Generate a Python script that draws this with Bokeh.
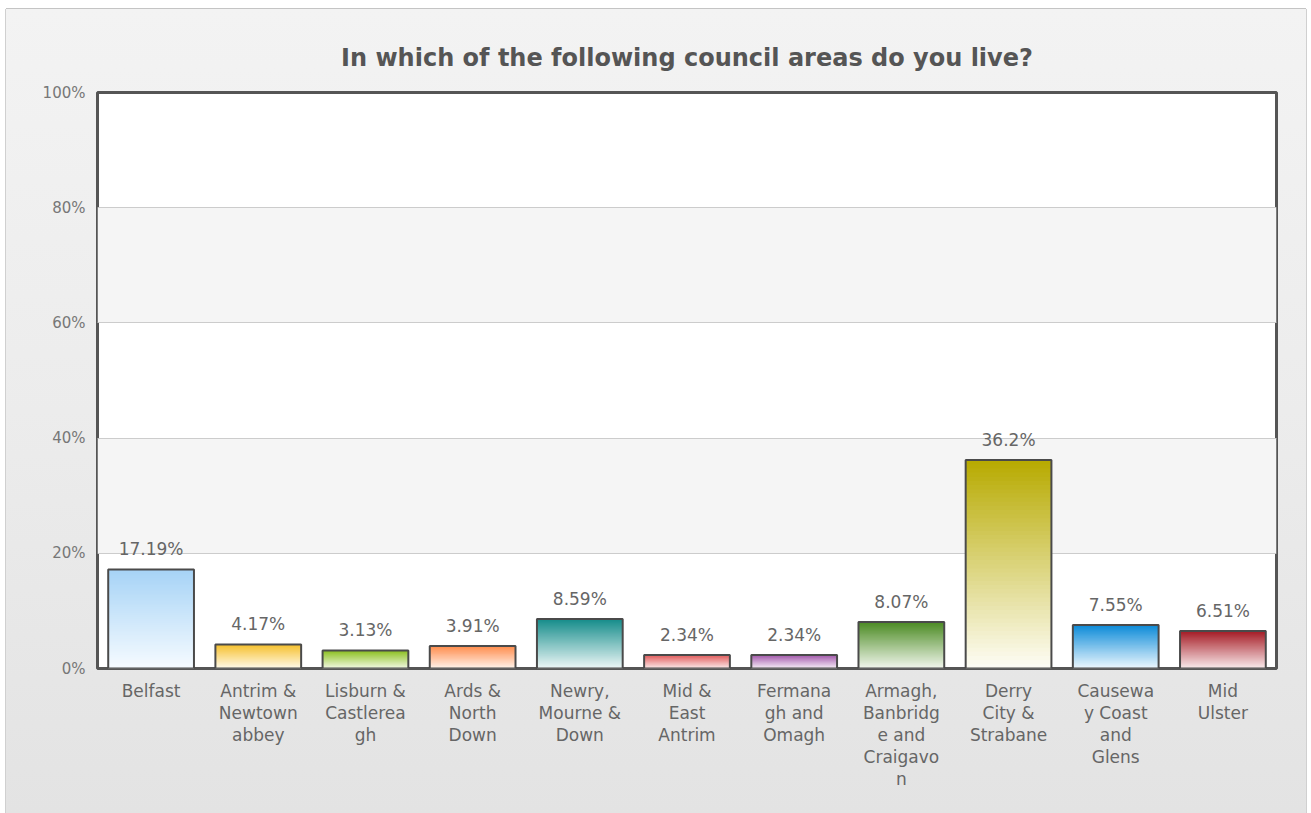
from bokeh.plotting import figure
from bokeh.models import Range1d, FixedTicker, PrintfTickFormatter, ColumnDataSource, FactorRange
from bokeh.core.properties import value
from bokeh.embed import file_html
from bokeh.resources import INLINE

# ---- data ----
categories = ["Belfast", "Antrim &\nNewtown\nabbey", "Lisburn &\nCastlerea\ngh", "Ards &\nNorth\nDown",
              "Newry,\nMourne &\nDown", "Mid &\nEast\nAntrim", "Fermana\ngh and\nOmagh",
              "Armagh,\nBanbridg\ne and\nCraigavo\nn", "Derry\nCity &\nStrabane",
              "Causewa\ny Coast\nand\nGlens", "Mid\nUlster"]
percentages = [17.19, 4.17, 3.13, 3.91, 8.59, 2.34, 2.34, 8.07, 36.2, 7.55, 6.51]
value_labels = ["17.19%", "4.17%", "3.13%", "3.91%", "8.59%", "2.34%", "2.34%", "8.07%", "36.2%", "7.55%", "6.51%"]
top_colors = ["#a6d3f6", "#f6c02c", "#8bbf1f", "#ff8c4c", "#148c8a", "#e25c5c", "#a259ab",
              "#4b8a22", "#b7aa00", "#0b8ad8", "#a41a24"]
bottom_colors = ["#f6fbff", "#fffaeb", "#f3f9e6", "#fff4ec", "#eef7f7", "#fcecec", "#f7eef8",
                 "#f2f7ee", "#fefdf6", "#eef8fe", "#faeced"]
y_ticks = [0, 20, 40, 60, 80, 100]


def hex2rgb(h):
    h = h.lstrip("#")
    return tuple(int(h[i:i + 2], 16) for i in (0, 2, 4))


def mix(c1, c2, t):
    a, b = hex2rgb(c1), hex2rgb(c2)
    return "#%02x%02x%02x" % tuple(int(round(a[i] + (b[i] - a[i]) * t)) for i in range(3))


p = figure(x_range=FactorRange(*categories, range_padding=0), y_range=Range1d(0, 100),
           width=1300, height=804, output_backend="svg", toolbar_location=None,
           min_border_left=91, min_border_right=30, min_border_top=83, min_border_bottom=145)
p.margin = (9, 0, 0, 6)
p.styles = {"background": "linear-gradient(to bottom, #f3f3f3 0%, #ececec 50%, #e3e3e3 100%)",
            "box-shadow": "0 -1px 0 #c4c4c4, -1px 0 0 #d0d0d0, 1px 0 0 #d0d0d0"}
p.border_fill_color = None
p.background_fill_color = "white"
p.outline_line_color = "#555555"
p.outline_line_width = 3

p.title.text = "In which of the following council areas do you live?"
p.title.align = "center"
p.title.text_font = "DejaVu Sans"
p.title.text_font_style = "bold"
p.title.text_font_size = "24px"
p.title.text_color = "#555555"
p.title.offset = 0
p.title.standoff = 42

# gradient bars: overlapping slices from bottom (light) to top (full colour)
N = 50
xs, bottoms, tops, cols = [], [], [], []
for cat, v, ct, cb in zip(categories, percentages, top_colors, bottom_colors):
    for i in range(N):
        xs.append(cat)
        bottoms.append(v * i / N)
        tops.append(v)
        cols.append(mix(cb, ct, (i + 0.5) / N))
p.vbar(x=xs, bottom=bottoms, top=tops, width=0.8, fill_color=cols, line_color=None)

src = ColumnDataSource(dict(x=categories, top=percentages, lab=value_labels))
p.vbar(x="x", top="top", width=0.8, source=src, fill_color=None, line_color="#4a4a4a", line_width=2)
p.text(x="x", y="top", text="lab", source=src, text_align="center", text_baseline="alphabetic",
       y_offset=-20, text_font=value("DejaVu Sans"), text_font_size="17px", text_color="#666666")

p.ygrid.ticker = FixedTicker(ticks=y_ticks)
p.ygrid.grid_line_color = "#cccccc"
p.ygrid.grid_line_width = 1
p.ygrid.band_fill_color = "#f5f5f5"
p.ygrid.band_fill_alpha = 1
p.xgrid.grid_line_color = None

p.yaxis.ticker = FixedTicker(ticks=y_ticks)
p.yaxis.formatter = PrintfTickFormatter(format="%d%%")
p.yaxis.axis_line_color = None
p.yaxis.major_tick_line_color = None
p.yaxis.minor_tick_line_color = None
p.yaxis.major_label_standoff = 6
p.yaxis.major_label_text_font = "DejaVu Sans"
p.yaxis.major_label_text_font_size = "15px"
p.yaxis.major_label_text_color = "#777777"

p.xaxis.axis_line_color = None
p.xaxis.major_tick_line_color = None
p.xaxis.major_label_standoff = 6
p.xaxis.major_label_text_font = "DejaVu Sans"
p.xaxis.major_label_text_font_size = "17px"
p.xaxis.major_label_text_color = "#666666"
p.xaxis.major_label_text_line_height = 1.1

open("out.html", "w").write(file_html(p, INLINE))
